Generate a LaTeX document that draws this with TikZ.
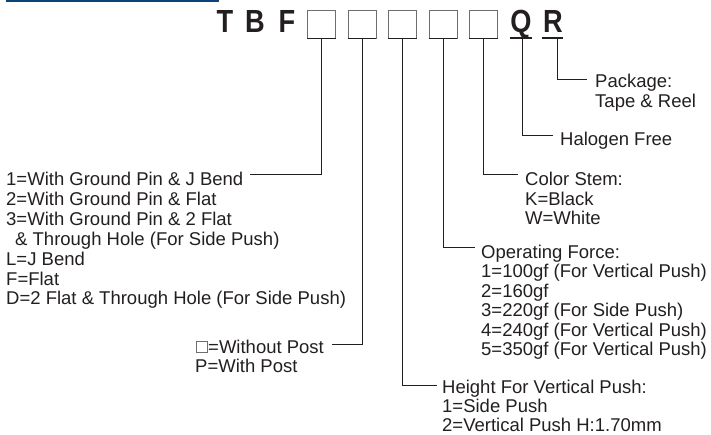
\documentclass[tikz,border=0pt]{standalone}
\usepackage{fontspec}
\setmainfont{Liberation Sans}
\definecolor{ink}{HTML}{231F20}
\definecolor{boxgray}{HTML}{6D6E71}
\definecolor{barblue}{HTML}{0B4478}
\newcommand\lblfont{\fontsize{18.5}{20}\selectfont}
\newcommand\bigfont{\fontsize{32}{32}\selectfont\bfseries}
\tikzset{
  lbl/.style={font=\lblfont, inner sep=0pt, anchor=base west, text=ink},
  big/.style={font=\bigfont, inner sep=0pt, anchor=base, text=ink, xscale=0.85},
  lead/.style={draw=ink, line width=1pt},
  slot/.style={draw=boxgray, line width=0.8pt, minimum width=28pt, minimum height=28pt, inner sep=0pt},
  uline/.style={draw=ink, line width=1.6pt},
}
\begin{document}
\begin{tikzpicture}[x=1pt,y=-1pt]
\useasboundingbox (0,0) rectangle (711,435);
\fill[barblue] (6,0) rectangle (219,2);
% part number
\node[big] (T) at (225,33) {T};
\node[big] (B) at (255,33) {B};
\node[big] (F) at (287,33) {F};
\node[big] (Q) at (521,33) {Q};
\node[big] (R) at (553,33) {R};
\foreach \i/\x in {1/321.5,2/362,3/402.5,4/443,5/483.5}{
  \node[slot] (b\i) at (\x,24) {};
  \draw[uline] (b\i.south west) -- (b\i.south east);
}
\coordinate (qa) at (510,38); \coordinate (qb) at (532,38);
\coordinate (ra) at (542,38); \coordinate (rb) at (563,38);
\draw[uline] (qa) -- (qb);
\draw[uline] (ra) -- (rb);
\coordinate (qs) at (522,38);
\coordinate (rs) at (557,38);
% connector ends
\coordinate (eR) at (587,80);
\coordinate (eQ) at (553,136);
\coordinate (e5) at (518,175);
\coordinate (e4) at (475,248);
\coordinate (e3) at (437,385);
\coordinate (e2) at (332,344);
\coordinate (e1) at (250,175);
\draw[lead] (rs) |- (eR);
\draw[lead] (qs) |- (eQ);
\draw[lead] (b5.south) |- (e5);
\draw[lead] (b4.south) |- (e4);
\draw[lead] (b3.south) |- (e3);
\draw[lead] (b2.south) |- (e2);
\draw[lead] (b1.south) |- (e1);
% Package
\node[lbl] (p1) at (595,88) {Package:};
\node[lbl] (p2) at (595,108) {Tape \& Reel};
% Halogen
\node[lbl] (h1) at (560,146) {Halogen Free};
% Color stem
\node[lbl] (c1) at (525,186) {Color Stem:};
\node[lbl] (c2) at (525,205.5) {K=Black};
\node[lbl] (c3) at (525,225) {W=White};
% Operating force
\node[lbl] (o1) at (481,258.3) {Operating Force:};
\node[lbl] (o2) at (481,277.8) {1=100gf (For Vertical Push)};
\node[lbl] (o3) at (481,297.3) {2=160gf};
\node[lbl] (o4) at (481,316.8) {3=220gf (For Side Push)};
\node[lbl] (o5) at (481,336.3) {4=240gf (For Vertical Push)};
\node[lbl] (o6) at (481,355.8) {5=350gf (For Vertical Push)};
% Height
\node[lbl] (t1) at (442,393.5) {Height For Vertical Push:};
\node[lbl] (t2) at (442,412.5) {1=Side Push};
\node[lbl] (t3) at (442,431.5) {2=Vertical Push H:1.70mm};
% Post
\node[draw=boxgray, line width=0.7pt, minimum width=11pt, minimum height=11.5pt, inner sep=0pt, anchor=south west] (sq) at (195.5,353) {};
\node[lbl] (w1) at (208,353) {=Without Post};
\node[lbl] (w2) at (195,372.5) {P=With Post};
% Terminal
\node[lbl] (l1) at (6,186) {1=With Ground Pin \& J Bend};
\node[lbl] (l2) at (6,205.8) {2=With Ground Pin \& Flat};
\node[lbl] (l3) at (6,225.6) {3=With Ground Pin \& 2 Flat};
\node[lbl] (l4) at (15,245.4) {\& Through Hole (For Side Push)};
\node[lbl] (l5) at (6,265.2) {L=J Bend};
\node[lbl] (l6) at (6,285) {F=Flat};
\node[lbl] (l7) at (6,304.8) {D=2 Flat \& Through Hole (For Side Push)};
\end{tikzpicture}
\end{document}
